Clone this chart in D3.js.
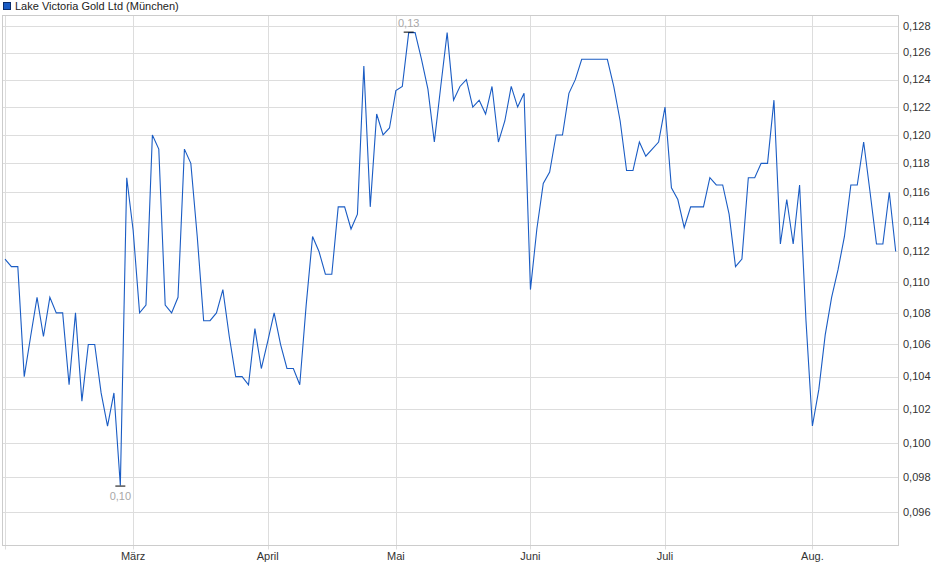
<!DOCTYPE html>
<html>
<head>
<meta charset="utf-8">
<script src="https://cdn.jsdelivr.net/npm/d3@7"></script>
<style>
  body { margin: 0; background: #fff; }
  svg { font-family: "Liberation Sans", Arial, sans-serif; }
</style>
</head>
<body>
<svg width="940" height="579"></svg>
<script>
// chart title / legend
var title = "Lake Victoria Gold Ltd (München)";

// closing prices, one per trading day (Feb - Aug)
var values = [
  0.1115, 0.111, 0.111, 0.104, 0.1065, 0.109, 0.1065, 0.109, 0.108, 0.108,
  0.1035, 0.108, 0.1025, 0.106, 0.106, 0.103, 0.101, 0.103, 0.0975, 0.117,
  0.1134, 0.108, 0.1085, 0.120, 0.119, 0.1085, 0.108, 0.109, 0.119, 0.118,
  0.113, 0.1075, 0.1075, 0.108, 0.1095, 0.1065, 0.104, 0.104, 0.1035, 0.107,
  0.1045, 0.1062, 0.108, 0.106, 0.1045, 0.1045, 0.1035, 0.1085, 0.113, 0.112,
  0.1105, 0.1105, 0.115, 0.115, 0.1135, 0.1145, 0.125, 0.115, 0.1215, 0.120,
  0.1205, 0.1232, 0.1235, 0.1275, 0.1275, 0.1255, 0.1233, 0.1195, 0.1235, 0.1275,
  0.1225, 0.1235, 0.124, 0.122, 0.1225, 0.1215, 0.1235, 0.1195, 0.121, 0.1235,
  0.122, 0.123, 0.1095, 0.1135, 0.1166, 0.1174, 0.120, 0.120, 0.123, 0.124,
  0.1255, 0.1255, 0.1255, 0.1255, 0.1255, 0.1235, 0.121, 0.1175, 0.1175, 0.1195,
  0.1185, 0.119, 0.1195, 0.122, 0.1163, 0.1155, 0.1136, 0.115, 0.115, 0.115,
  0.117, 0.1165, 0.1165, 0.1145, 0.111, 0.1115, 0.117, 0.117, 0.118, 0.118,
  0.1225, 0.1125, 0.1155, 0.1125, 0.1165, 0.1075, 0.101, 0.1032, 0.1066, 0.109,
  0.1108, 0.113, 0.1165, 0.1165, 0.1195, 0.116, 0.1125, 0.1125, 0.116, 0.112
];

// first trading day of each month (index into values) and its label
var monthIndex = [0, 20, 41, 61, 82, 103, 126];
var monthLabels = ["", "März", "April", "Mai", "Juni", "Juli", "Aug."];

// y ticks on the right
var yTicks = d3.range(0.096, 0.1285, 0.002);

var svg = d3.select("svg");
var plot = { left: 2.5, right: 898.5, top: 15.5, bottom: 545.5 };

var de = d3.formatLocale({ decimal: ",", thousands: ".", grouping: [3], currency: ["", " €"] });
var fmtTick = de.format(".3f"),
  fmtMark = de.format(".2f");

// scales: index on x, price on a log axis
var x = d3.scaleLinear().domain([0, values.length - 1]).range([5, 895.7]);
var y = d3.scaleLog().domain([0.0941, 0.1288]).range([plot.bottom, plot.top]);

// horizontal grid + right labels
var gy = svg.append("g");
gy.selectAll("line").data(yTicks).enter().append("line")
  .attr("x1", plot.left).attr("x2", plot.right)
  .attr("y1", function(d) { return Math.round(y(d)) + 0.5; })
  .attr("y2", function(d) { return Math.round(y(d)) + 0.5; })
  .attr("stroke", "#dddddd");
gy.selectAll("text").data(yTicks).enter().append("text")
  .attr("x", 903)
  .attr("y", function(d) { return y(d); })
  .attr("dy", "0.35em")
  .attr("font-size", 11)
  .attr("fill", "#333")
  .text(function(d) { return fmtTick(d); });

// vertical month grid + labels below
var gx = svg.append("g");
gx.selectAll("line").data(monthIndex).enter().append("line")
  .attr("x1", function(d) { return Math.round(x(d)) + 0.5; })
  .attr("x2", function(d) { return Math.round(x(d)) + 0.5; })
  .attr("y1", plot.top).attr("y2", plot.bottom + 4)
  .attr("stroke", "#dddddd");
gx.selectAll("text").data(monthIndex).enter().append("text")
  .attr("x", function(d) { return x(d); })
  .attr("y", 560)
  .attr("text-anchor", "middle")
  .attr("font-size", 11)
  .attr("fill", "#333")
  .text(function(d, i) { return monthLabels[i]; });

// plot frame
svg.append("rect")
  .attr("x", plot.left).attr("y", plot.top)
  .attr("width", plot.right - plot.left)
  .attr("height", plot.bottom - plot.top)
  .attr("fill", "none")
  .attr("stroke", "#cccccc");

// price line
var line = d3.line()
  .x(function(d, i) { return x(i); })
  .y(function(d) { return y(d); });

svg.append("path")
  .datum(values)
  .attr("d", line)
  .attr("fill", "none")
  .attr("stroke", "#1a5cc4")
  .attr("stroke-width", 1.1);

// high / low markers
var iMax = d3.maxIndex(values),
  iMin = d3.minIndex(values);

svg.append("line")
  .attr("x1", x(iMax) - 5).attr("x2", x(iMax) + 5)
  .attr("y1", y(values[iMax]) - 0.5).attr("y2", y(values[iMax]) - 0.5)
  .attr("stroke", "#000");
svg.append("text")
  .attr("x", x(iMax)).attr("y", y(values[iMax]) - 6)
  .attr("text-anchor", "middle")
  .attr("font-size", 11)
  .attr("fill", "#a8a8a8")
  .text(fmtMark(values[iMax]));

svg.append("line")
  .attr("x1", x(iMin) - 5).attr("x2", x(iMin) + 5)
  .attr("y1", y(values[iMin]) + 0.5).attr("y2", y(values[iMin]) + 0.5)
  .attr("stroke", "#000");
svg.append("text")
  .attr("x", x(iMin)).attr("y", y(values[iMin]) + 14)
  .attr("text-anchor", "middle")
  .attr("font-size", 11)
  .attr("fill", "#a8a8a8")
  .text(fmtMark(values[iMin]));

// legend
svg.append("rect")
  .attr("x", 3.5).attr("y", 2.5)
  .attr("width", 7).attr("height", 7)
  .attr("fill", "#1a5cc4")
  .attr("stroke", "#0b2d6b");
svg.append("text")
  .attr("x", 15).attr("y", 10)
  .attr("font-size", 11)
  .attr("fill", "#222")
  .text(title);
</script>
</body>
</html>
